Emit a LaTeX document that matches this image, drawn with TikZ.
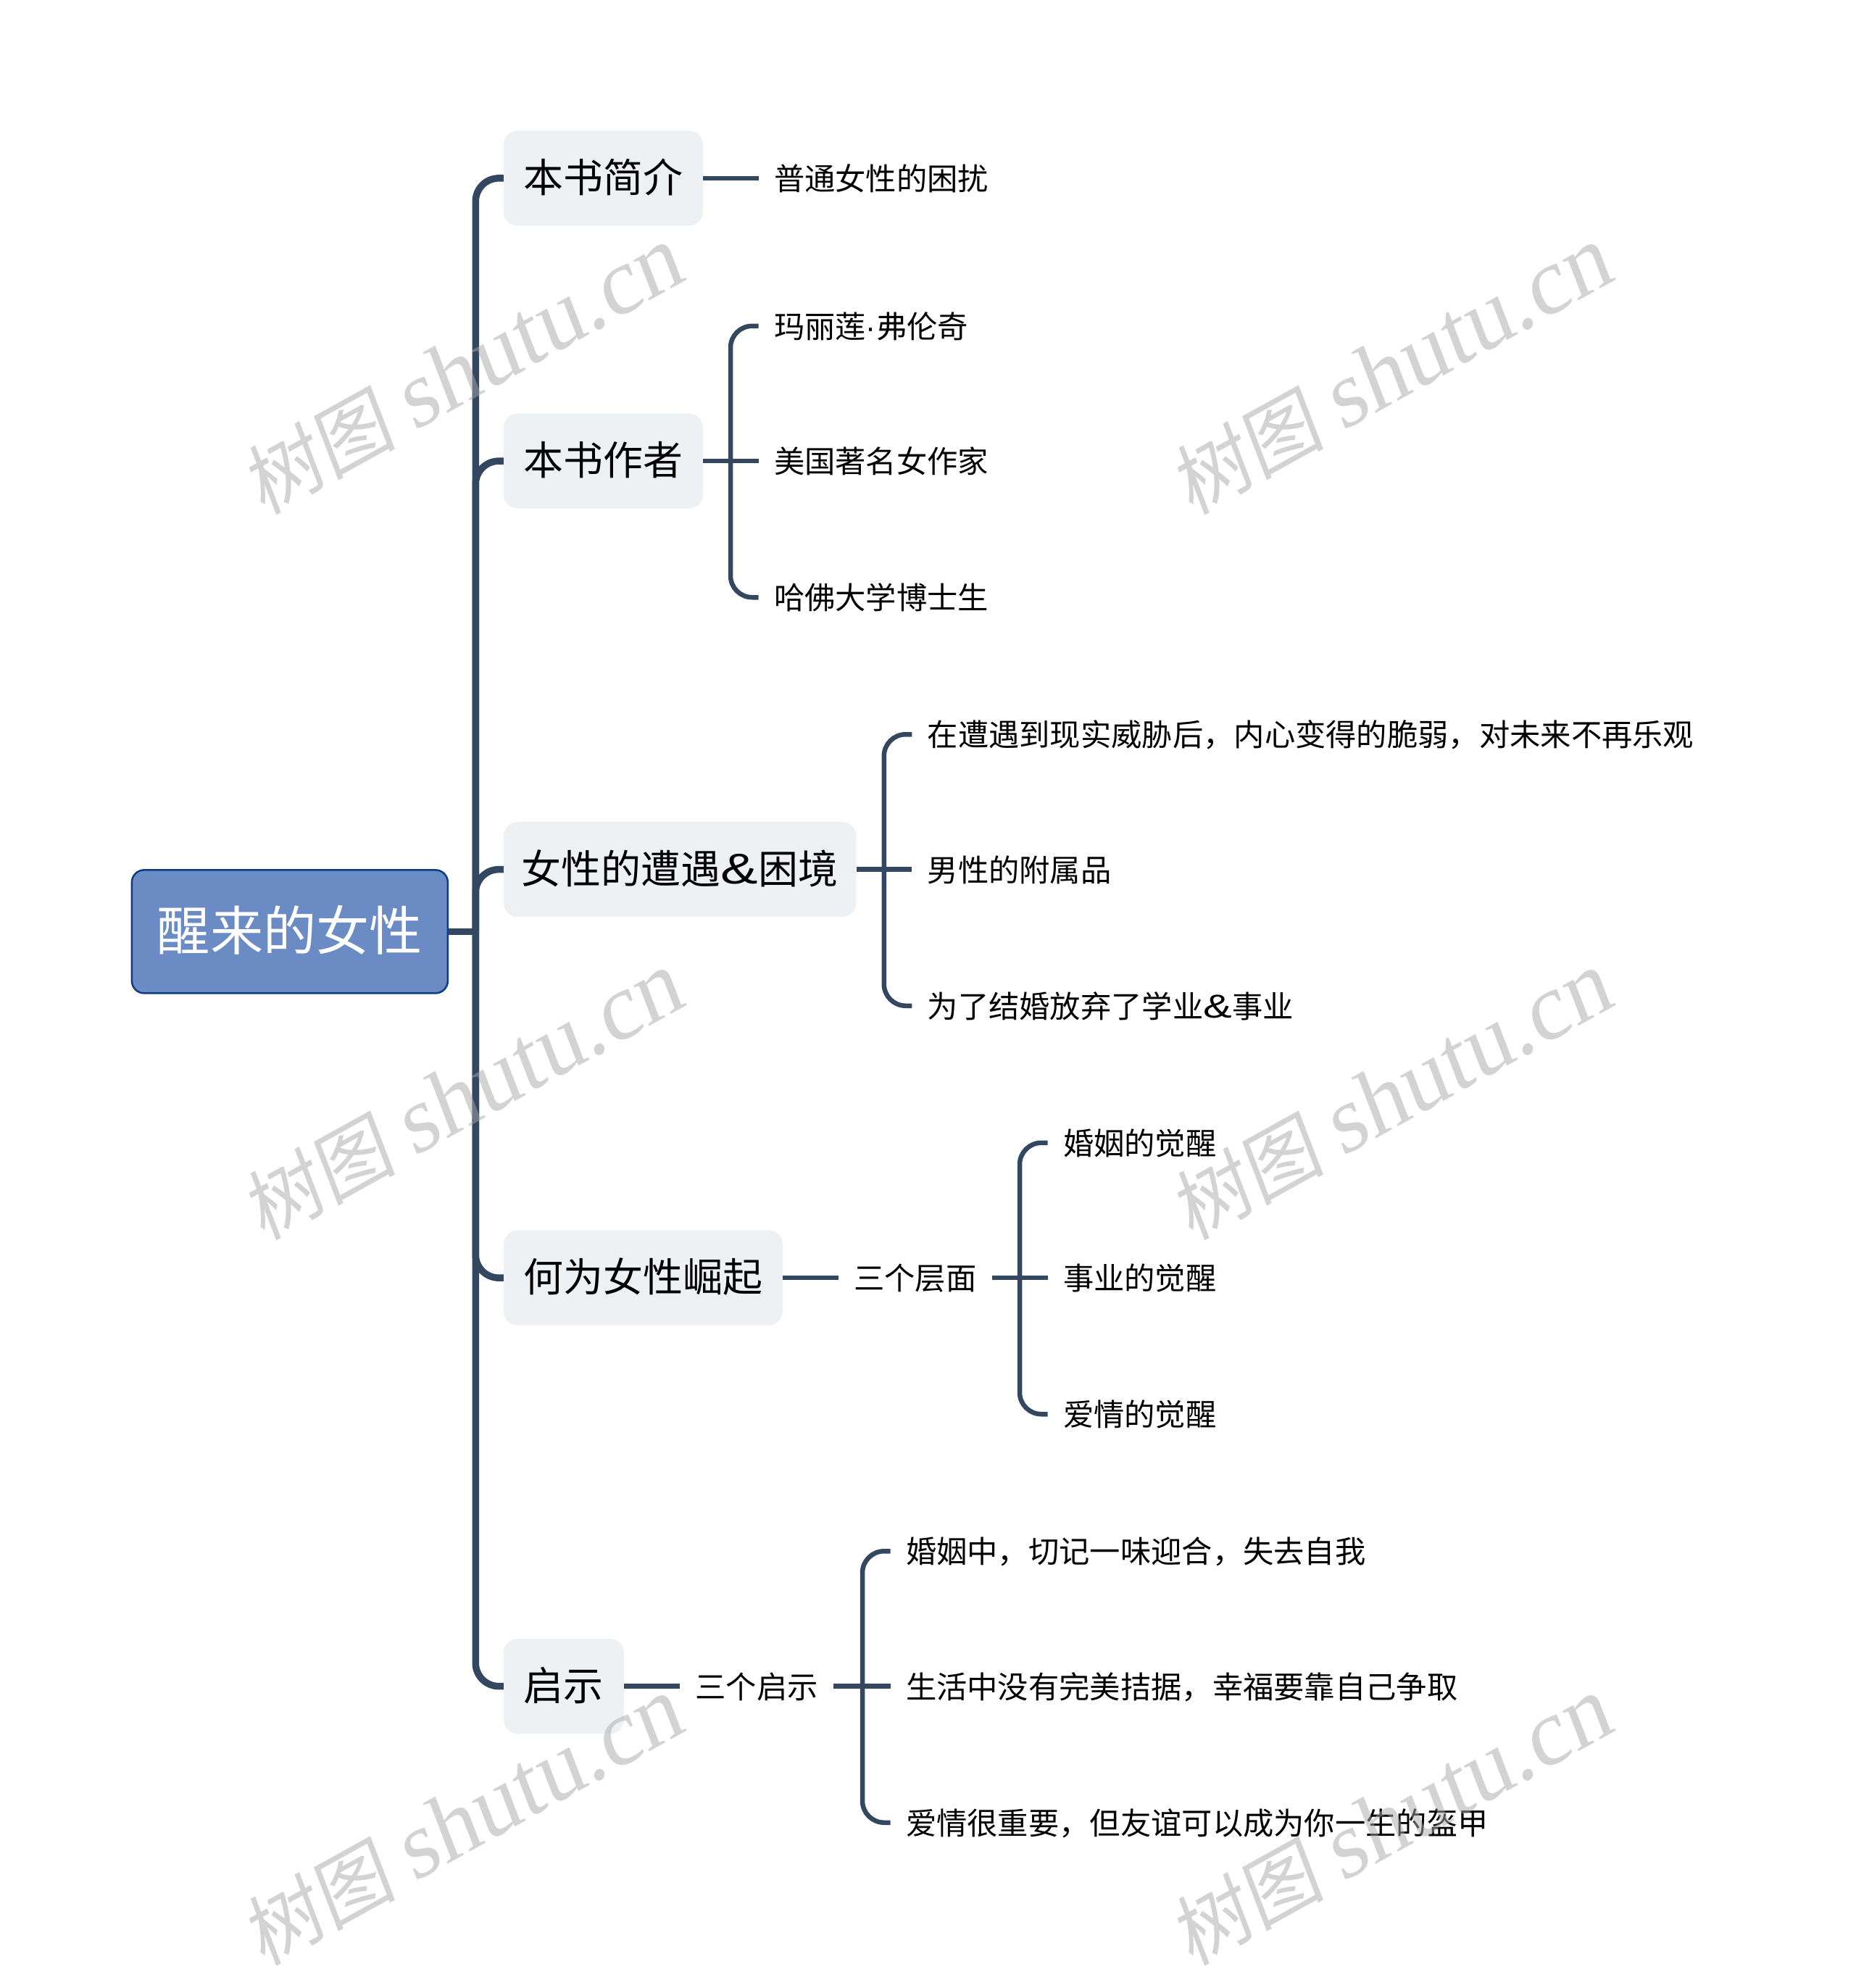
\documentclass[tikz,border=0pt]{standalone}
\usepackage{fontspec}
\setmainfont{Noto Sans CJK SC}
\newfontfamily\wmlatin[FakeSlant=0.14]{Liberation Serif}
\newfontfamily\wmcjk[FakeSlant=0.14]{Noto Sans CJK SC}
\newfontfamily\amp[FakeStretch=1.3,Scale=1.08]{Liberation Sans}
\newfontfamily\dotf{Liberation Sans}
\definecolor{rootfill}{HTML}{6A8BC4}
\definecolor{rootline}{HTML}{0F3C82}
\definecolor{linkcol}{HTML}{344760}
\definecolor{boxfill}{HTML}{EEF1F4}
\definecolor{wmcol}{HTML}{A8A8A8}
\tikzset{
  rootbox/.style={draw=rootline,line width=2.5pt,fill=rootfill,rounded corners=17pt,text=white,inner sep=0pt,minimum width=436pt,minimum height=170pt,font=\fontsize{73.2}{80}\selectfont,text height=60pt,text depth=8pt},
  topic/.style={fill=boxfill,rounded corners=19pt,anchor=west,inner sep=0pt,minimum height=131pt,font=\fontsize{55}{60}\selectfont,text height=45pt,text depth=6pt},
  leaf/.style={anchor=west,inner ysep=0pt,inner xsep=21.3pt,font=\fontsize{42.3}{48}\selectfont,text height=38pt,text depth=5pt},
  mainlink/.style={draw=linkcol,line width=9.5pt,rounded corners=32pt},
  sublink/.style={draw=linkcol,line width=6.5pt,rounded corners=30pt},
  wm/.style={text=wmcol,opacity=.5,rotate=29,inner sep=0pt}
}
\newcommand{\wmark}[2]{\node[wm] (#1) at (#2) {\fontsize{107}{110}\wmcjk 树图 \fontsize{129}{130}\wmlatin shutu.cn};}
\begin{document}
\begin{tikzpicture}[x=1.75pt,y=-1.75pt]
\useasboundingbox (0,0) rectangle (1462.857,1567.429);
% nodes
\node[rootbox] (root) at (228.5,734.5) {醒来的女性};
\node[topic,minimum width=275pt] (t1) at (397,140.5) {本书简介};
\node[topic,minimum width=275pt] (t2) at (397,363.5) {本书作者};
\node[topic,minimum width=486.5pt] (t3) at (397,685.5) {女性的遭遇{\amp\&}困境};
\node[topic,minimum width=385pt] (t4) at (397,1007.5) {何为女性崛起};
\node[topic,minimum width=166pt] (t5) at (397,1329.5) {启示};
\node[leaf] (a1) at (598,140.5) {普通女性的困扰};
\node[leaf] (b1) at (598,257) {玛丽莲{\dotf ·}弗伦奇};
\node[leaf] (b2) at (598,363.5) {美国著名女作家};
\node[leaf] (b3) at (598,471) {哈佛大学博士生};
\node[leaf] (c1) at (719,579) {在遭遇到现实威胁后，内心变得的脆弱，对未来不再乐观};
\node[leaf] (c2) at (719,685.5) {男性的附属品};
\node[leaf] (c3) at (719,793) {为了结婚放弃了学业{\amp\&}事业};
\node[leaf] (d0) at (661,1007.5) {三个层面};
\node[leaf] (d1) at (826,901) {婚姻的觉醒};
\node[leaf] (d2) at (826,1007.5) {事业的觉醒};
\node[leaf] (d3) at (826,1115) {爱情的觉醒};
\node[leaf] (e0) at (536,1329.5) {三个启示};
\node[leaf] (e1) at (702,1223) {婚姻中，切记一味迎合，失去自我};
\node[leaf] (e2) at (702,1329.5) {生活中没有完美拮据，幸福要靠自己争取};
\node[leaf] (e3) at (702,1437) {爱情很重要，但友谊可以成为你一生的盔甲};
% trunk
\coordinate (T) at (375,734.5);
\draw[mainlink] (root.east) -- (T);
\foreach \n in {t1,t2,t3,t4,t5}
  \draw[mainlink] (T) |- (\n.west);
% second level
\draw[sublink] (t1.east) -- (a1.west);
\coordinate (B) at (576,363.5);
\draw[sublink] (t2.east) -- (b2.west);
\foreach \n in {b1,b3} \draw[sublink] (B) |- (\n.west);
\coordinate (C) at (697,685.5);
\draw[sublink] (t3.east) -- (c2.west);
\foreach \n in {c1,c3} \draw[sublink] (C) |- (\n.west);
\draw[sublink] (t4.east) -- (d0.west);
\coordinate (D) at (804,1007.5);
\draw[sublink] (d0.east) -- (d2.west);
\foreach \n in {d1,d3} \draw[sublink] (D) |- (\n.west);
\draw[sublink] (t5.east) -- (e0.west);
\coordinate (E) at (680,1329.5);
\draw[sublink] (e0.east) -- (e2.west);
\foreach \n in {e1,e3} \draw[sublink] (E) |- (\n.west);
% watermarks
\wmark{w1}{364,293}
\wmark{w2}{1096,293}
\wmark{w3}{364,865}
\wmark{w4}{1096,865}
\wmark{w5}{364,1437}
\wmark{w6}{1096,1437}
\end{tikzpicture}
\end{document}
